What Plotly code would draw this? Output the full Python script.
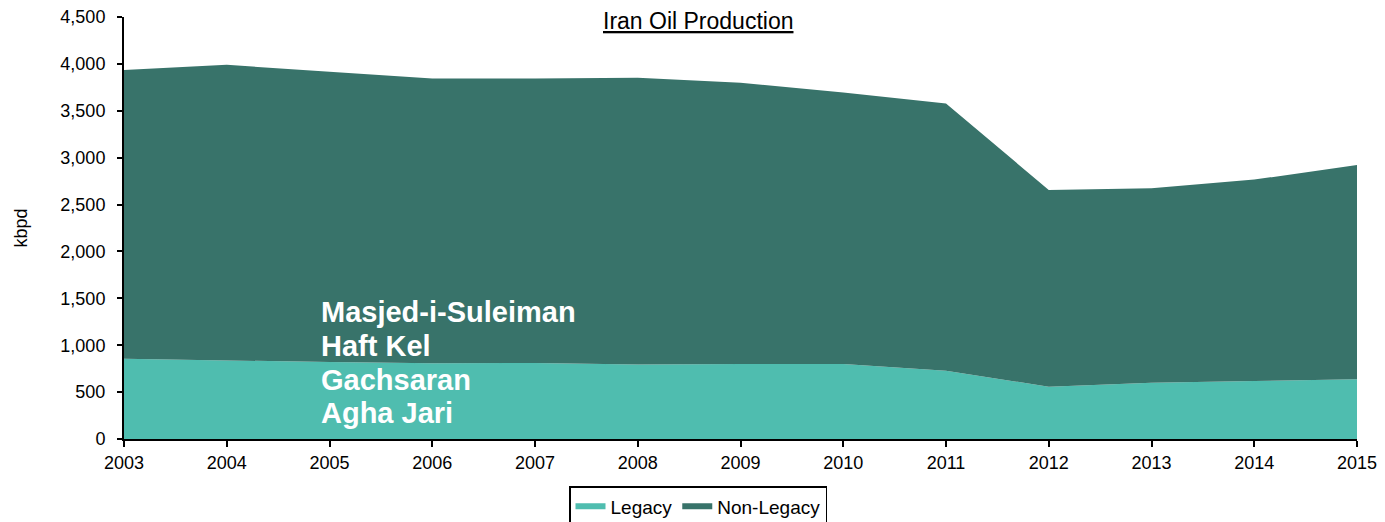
import plotly.graph_objects as go

years = list(range(2003, 2016))
legacy = [855, 838, 820, 808, 810, 795, 800, 800, 727, 558, 600, 618, 636]
total = [3935, 3990, 3915, 3845, 3845, 3852, 3798, 3695, 3578, 2655, 2673, 2766, 2921]
non_legacy = [t - l for t, l in zip(total, legacy)]
field_labels = ["Masjed-i-Suleiman", "Haft Kel", "Gachsaran", "Agha Jari"]
label_y = [1354, 991, 629, 277]

FONT = "Arial, Liberation Sans, sans-serif"

fig = go.Figure()
fig.add_trace(go.Scatter(
    x=years, y=legacy, name="Legacy", stackgroup="one",
    mode="none", fillcolor="#4FBDAF",
))
fig.add_trace(go.Scatter(
    x=years, y=non_legacy, name="Non-Legacy", stackgroup="one",
    mode="none", fillcolor="#38736A",
))

# field names written over the chart
for txt, yy in zip(field_labels, label_y):
    fig.add_annotation(
        x=2004.9, y=yy, text=f"<b>{txt}</b>", showarrow=False,
        xanchor="left", yanchor="middle",
        font=dict(family=FONT, size=29, color="white"),
    )

fig.add_annotation(
    x=(698 - 124) / 1233, y=1.0, xref="paper", yref="paper",
    text="<u>Iran Oil Production</u>", showarrow=False,
    xanchor="center", yanchor="top", yshift=11,
    font=dict(family=FONT, size=23, color="black"),
)

fig.update_layout(
    width=1385, height=522,
    margin=dict(l=124, r=28, t=17, b=83, autoexpand=False),
    paper_bgcolor="white", plot_bgcolor="white",
    font=dict(family=FONT, size=18, color="black"),
    showlegend=True,
    legend=dict(
        orientation="h", x=(698 - 124) / 1233, xanchor="center",
        yref="container", y=(522 - 486) / 522, yanchor="top",
        traceorder="normal",
        bordercolor="black", borderwidth=1.5,
        font=dict(family=FONT, size=19),
    ),
    xaxis=dict(
        range=[2003, 2015], dtick=1, tick0=2003,
        showline=True, linecolor="black", linewidth=2,
        ticks="outside", ticklen=6, tickcolor="black", tickwidth=2,
        showgrid=False, zeroline=False,
    ),
    yaxis=dict(
        range=[0, 4500], dtick=500, tickformat=",",
        showline=True, linecolor="black", linewidth=2,
        ticks="outside", ticklen=5, tickcolor="black", tickwidth=1.5,
        ticklabelstandoff=8,
        showgrid=False, zeroline=False,
        title=dict(text="kbpd", font=dict(family=FONT, size=18), standoff=28),
    ),
)

fig.write_html("out.html", config={"displayModeBar": False},
               post_script="document.body.style.margin='0';")
